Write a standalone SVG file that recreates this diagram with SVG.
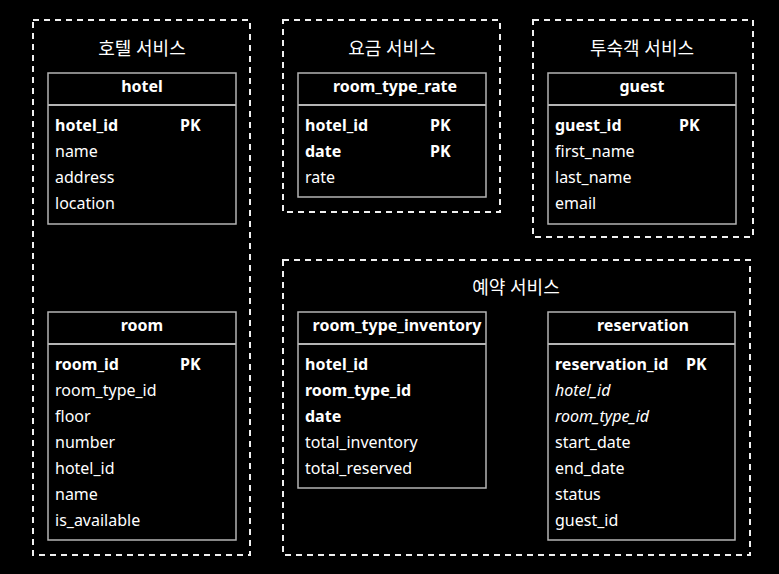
<svg xmlns="http://www.w3.org/2000/svg" width="779" height="574" viewBox="0 0 779 574">
<style>
text{font-family:"Noto Sans","Noto Sans CJK KR","Open Sans",sans-serif;fill:#ffffff;font-size:16px}
.svc{fill:none;stroke:#f0f0f0;stroke-width:2;stroke-dasharray:6 5}
.tbl{fill:#000;stroke:#b4b4b4;stroke-width:1.5}
.sep{stroke:#b4b4b4;stroke-width:2}
.title{font-size:18px;text-anchor:middle}
.hd{font-weight:bold;text-anchor:middle}
.b{font-weight:bold}
.i{font-style:italic}
</style>
<rect width="779" height="574" fill="#000"/>
<g id="hotel-service">
<rect class="svc" x="33" y="20" width="217" height="535"/>
<text class="title" x="142" y="55">호텔 서비스</text>
</g>
<g id="rate-service">
<rect class="svc" x="283" y="20" width="217" height="192"/>
<text class="title" x="392" y="55">요금 서비스</text>
</g>
<g id="guest-service">
<rect class="svc" x="533" y="20" width="220" height="217"/>
<text class="title" x="642" y="55">투숙객 서비스</text>
</g>
<g id="reservation-service">
<rect class="svc" x="283" y="260" width="467" height="295"/>
<text class="title" x="516" y="294">예약 서비스</text>
</g>
<g id="hotel">
<rect class="tbl" x="48" y="73" width="188" height="151"/>
<line class="sep" x1="48" y1="105" x2="236" y2="105"/>
<text class="hd" x="142" y="92">hotel</text>
<text class="b" x="55" y="131">hotel_id</text><text class="b" x="180" y="131">PK</text>
<text x="55" y="157">name</text>
<text x="55" y="183">address</text>
<text x="55" y="209">location</text>
</g>
<g id="room">
<rect class="tbl" x="48" y="312" width="188" height="228"/>
<line class="sep" x1="48" y1="344" x2="236" y2="344"/>
<text class="hd" x="142" y="331">room</text>
<text class="b" x="55" y="370">room_id</text><text class="b" x="180" y="370">PK</text>
<text x="55" y="396">room_type_id</text>
<text x="55" y="422">floor</text>
<text x="55" y="448">number</text>
<text x="55" y="474">hotel_id</text>
<text x="55" y="500">name</text>
<text x="55" y="526">is_available</text>
</g>
<g id="room_type_rate">
<rect class="tbl" x="298" y="73" width="188" height="124"/>
<line class="sep" x1="298" y1="105" x2="486" y2="105"/>
<text class="hd" x="395" y="92">room_type_rate</text>
<text class="b" x="305" y="131">hotel_id</text><text class="b" x="430" y="131">PK</text>
<text class="b" x="305" y="157">date</text><text class="b" x="430" y="157">PK</text>
<text x="305" y="183">rate</text>
</g>
<g id="guest">
<rect class="tbl" x="548" y="73" width="188" height="151"/>
<line class="sep" x1="548" y1="105" x2="736" y2="105"/>
<text class="hd" x="642" y="92">guest</text>
<text class="b" x="555" y="131">guest_id</text><text class="b" x="679" y="131">PK</text>
<text x="555" y="157">first_name</text>
<text x="555" y="183">last_name</text>
<text x="555" y="209">email</text>
</g>
<g id="room_type_inventory">
<rect class="tbl" x="298" y="312" width="188" height="176"/>
<line class="sep" x1="298" y1="344" x2="486" y2="344"/>
<text class="hd" x="397" y="331">room_type_inventory</text>
<text class="b" x="305" y="370">hotel_id</text>
<text class="b" x="305" y="396">room_type_id</text>
<text class="b" x="305" y="422">date</text>
<text x="305" y="448">total_inventory</text>
<text x="305" y="474">total_reserved</text>
</g>
<g id="reservation">
<rect class="tbl" x="548" y="312" width="187" height="228"/>
<line class="sep" x1="548" y1="344" x2="735" y2="344"/>
<text class="hd" x="643" y="331">reservation</text>
<text class="b" x="555" y="370">reservation_id</text><text class="b" x="686" y="370">PK</text>
<text class="i" x="555" y="396">hotel_id</text>
<text class="i" x="555" y="422">room_type_id</text>
<text x="555" y="448">start_date</text>
<text x="555" y="474">end_date</text>
<text x="555" y="500">status</text>
<text x="555" y="526">guest_id</text>
</g>
<g id="connectors"></g>
</svg>
